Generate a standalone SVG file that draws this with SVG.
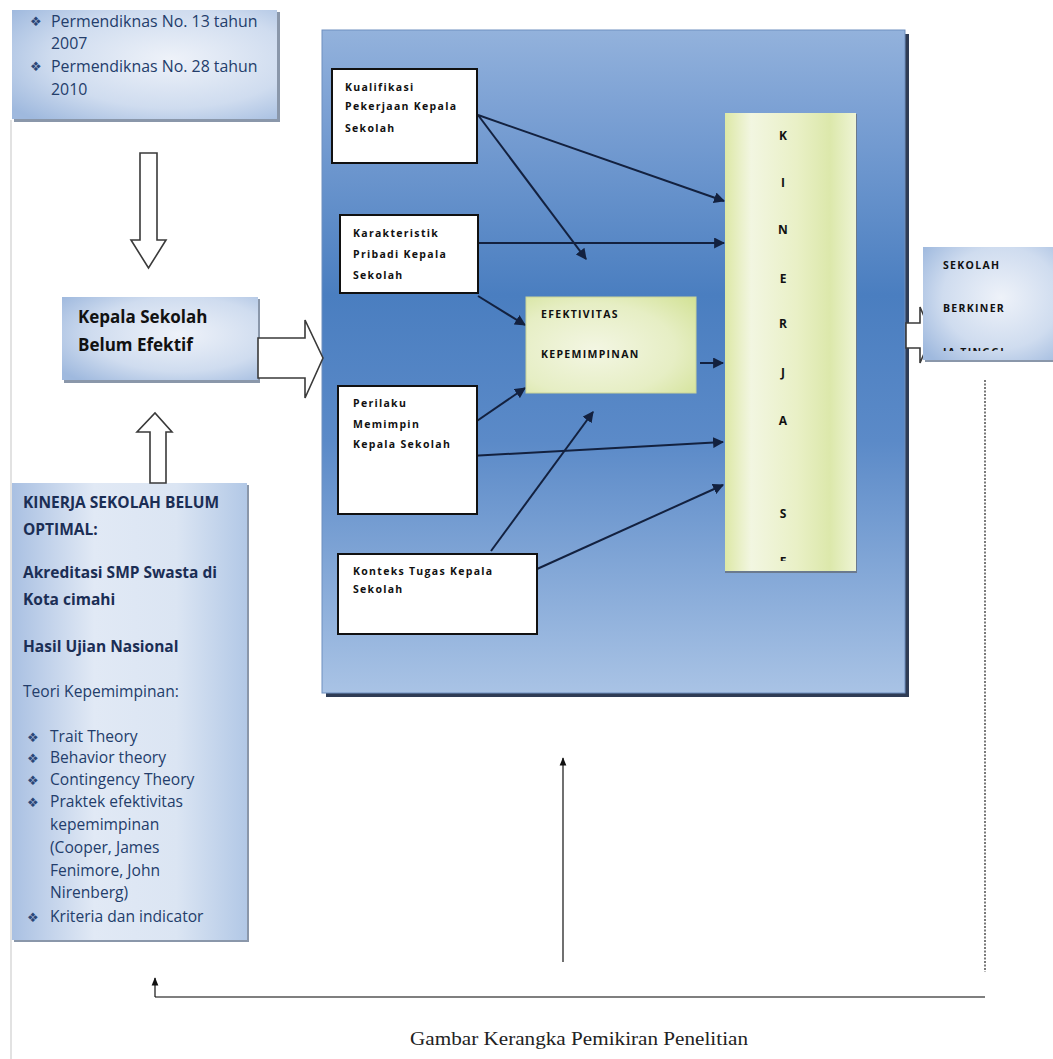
<svg xmlns="http://www.w3.org/2000/svg" width="1053" height="1059" viewBox="0 0 1053 1059">
<style>
.lb{font-family:"Open Sans","Liberation Sans",sans-serif;}
.side{fill:#233d6b;font-size:15.6px;}
.tp{fill:#233d6b;font-size:15.9px;}
.sideb{fill:#1b2e55;font-size:15.5px;font-weight:bold;}
.inb{fill:#111;font-size:10.5px;font-weight:bold;letter-spacing:1.3px;}
.bul{font-family:"DejaVu Sans",sans-serif;fill:#2b4677;font-size:13px;}
.let{fill:#111;font-size:12px;font-weight:bold;text-anchor:middle;}
.conn{stroke:#13213f;stroke-width:2;fill:none;marker-end:url(#ah);}
.outl{fill:#fff;stroke:#3a3a3a;stroke-width:1.6;}
.wbox{fill:#fff;stroke:#111;stroke-width:2;}
</style>
<defs>
<marker id="ah" viewBox="0 0 10 10" refX="9" refY="5" markerWidth="5.5" markerHeight="5.5" orient="auto" markerUnits="strokeWidth">
<path d="M0,0 L10,5 L0,10 z" fill="#13213f"/>
</marker>
<marker id="ahs" viewBox="0 0 10 10" refX="9" refY="5" markerWidth="7" markerHeight="7" orient="auto" markerUnits="strokeWidth">
<path d="M0,1 L10,5 L0,9 z" fill="#111"/>
</marker>
<linearGradient id="gBig" x1="0" y1="0" x2="0" y2="1">
<stop offset="0" stop-color="#93b2dc"/>
<stop offset="0.12" stop-color="#7ca1d4"/>
<stop offset="0.40" stop-color="#4a7ec0"/>
<stop offset="0.62" stop-color="#5b8ac8"/>
<stop offset="1" stop-color="#a9c3e5"/>
</linearGradient>
<radialGradient id="gPale" cx="0.6" cy="0.45" r="0.75">
<stop offset="0" stop-color="#eef2f9"/>
<stop offset="0.6" stop-color="#cfdcef"/>
<stop offset="1" stop-color="#9fb9de"/>
</radialGradient>
<linearGradient id="gPaleV" x1="0" y1="0" x2="1" y2="0">
<stop offset="0" stop-color="#a9c0e2"/>
<stop offset="0.35" stop-color="#e1e9f5"/>
<stop offset="0.7" stop-color="#dbe5f3"/>
<stop offset="1" stop-color="#b2c8e6"/>
</linearGradient>
<linearGradient id="gKin" x1="0" y1="0" x2="1" y2="0">
<stop offset="0" stop-color="#dde8a6"/>
<stop offset="0.2" stop-color="#f2f6e1"/>
<stop offset="0.55" stop-color="#e9f0c6"/>
<stop offset="0.8" stop-color="#dce8ab"/>
<stop offset="1" stop-color="#eef4d4"/>
</linearGradient>
<radialGradient id="gEf" cx="0.4" cy="0.55" r="0.8">
<stop offset="0" stop-color="#f3f6e3"/>
<stop offset="0.6" stop-color="#e6eec4"/>
<stop offset="1" stop-color="#d3e296"/>
</radialGradient>
<clipPath id="cKin"><rect x="725" y="113" width="131" height="448"/></clipPath>
<clipPath id="cSek"><rect x="923" y="247" width="130" height="104"/></clipPath>
</defs>

<rect width="1053" height="1059" fill="#fff"/>
<line x1="11" y1="120" x2="11" y2="1059" stroke="#cfcfcf" stroke-width="1.2"/>

<g id="node-main">
<rect x="326" y="34" width="583" height="663" fill="#2f3c55"/>
<rect x="322" y="30" width="583" height="663" fill="url(#gBig)" stroke="#6f8fbf" stroke-width="1"/>
</g>

<g id="node-permendiknas">
<rect x="14" y="12" width="266" height="110" fill="#8a97aa"/>
<rect x="12" y="10" width="265" height="109" fill="url(#gPale)"/>
<text class="bul" x="30" y="26">❖</text>
<text class="lb tp" x="51" y="27">Permendiknas No. 13 tahun</text>
<text class="lb tp" x="51" y="49">2007</text>
<text class="bul" x="30" y="71">❖</text>
<text class="lb tp" x="51" y="72">Permendiknas No. 28 tahun</text>
<text class="lb tp" x="51" y="95">2010</text>
</g>

<g id="node-kepala">
<rect x="64" y="299" width="196" height="84" fill="#8a97aa"/>
<rect x="62" y="297" width="196" height="83" fill="url(#gPale)"/>
<text class="lb" x="78" y="323" fill="#111" font-size="17" font-weight="bold">Kepala Sekolah</text>
<text class="lb" x="78" y="351" fill="#111" font-size="17" font-weight="bold">Belum Efektif</text>
</g>

<g id="node-kinerja-sekolah">
<rect x="14" y="485" width="235" height="457" fill="#8a97aa"/>
<rect x="12" y="483" width="235" height="457" fill="url(#gPaleV)"/>
<text class="lb sideb" x="23" y="508">KINERJA SEKOLAH BELUM</text>
<text class="lb sideb" x="23" y="535">OPTIMAL:</text>
<text class="lb sideb" x="23" y="578">Akreditasi SMP Swasta di</text>
<text class="lb sideb" x="23" y="605">Kota cimahi</text>
<text class="lb sideb" x="23" y="652">Hasil Ujian Nasional</text>
<text class="lb side" x="23" y="697">Teori Kepemimpinan:</text>
<text class="bul" x="27" y="742">❖</text>
<text class="lb side" x="50" y="742">Trait Theory</text>
<text class="bul" x="27" y="763">❖</text>
<text class="lb side" x="50" y="763">Behavior theory</text>
<text class="bul" x="27" y="785">❖</text>
<text class="lb side" x="50" y="785">Contingency Theory</text>
<text class="bul" x="27" y="807">❖</text>
<text class="lb side" x="50" y="807">Praktek efektivitas</text>
<text class="lb side" x="50" y="830">kepemimpinan</text>
<text class="lb side" x="50" y="853">(Cooper, James</text>
<text class="lb side" x="50" y="876">Fenimore, John</text>
<text class="lb side" x="50" y="898">Nirenberg)</text>
<text class="bul" x="27" y="922">❖</text>
<text class="lb side" x="50" y="922">Kriteria dan indicator</text>
</g>

<g id="connectors">
<polygon class="outl" points="140,153 157,153 157,240 166,240 148.5,268 131,240 140,240"/>
<polygon class="outl" points="258,338 305,338 305,320 323,358 305,398 305,378 258,378"/>
<polygon class="outl" points="150,483 166,483 166,432 172,432 155,413 137,432 150,432"/>
<polygon class="outl" points="906,323 920,323 920,307 932,335 920,363 920,348 906,348"/>
<line class="conn" x1="478" y1="115" x2="724" y2="201"/>
<line class="conn" x1="478" y1="115" x2="586" y2="259"/>
<line class="conn" x1="478" y1="243" x2="724" y2="243"/>
<line class="conn" x1="478" y1="296" x2="525" y2="325"/>
<line class="conn" x1="700" y1="363" x2="723" y2="363"/>
<line class="conn" x1="471" y1="425" x2="525" y2="388"/>
<line class="conn" x1="470" y1="456" x2="723" y2="442"/>
<line class="conn" x1="491" y1="551" x2="593" y2="412"/>
<line class="conn" x1="537" y1="569" x2="723" y2="485"/>
<line x1="563" y1="962" x2="563" y2="758" stroke="#111" stroke-width="1.2" marker-end="url(#ahs)"/>
<line x1="985" y1="380" x2="985" y2="972" stroke="#333" stroke-width="1.3" stroke-dasharray="2,1.5"/>
<line x1="985" y1="997" x2="155" y2="997" stroke="#555" stroke-width="1.6"/>
<line x1="155" y1="997" x2="155" y2="978" stroke="#111" stroke-width="1.2" marker-end="url(#ahs)"/>
</g>

<g id="node-kualifikasi">
<rect class="wbox" x="332" y="69" width="145" height="94"/>
<text class="lb inb" x="345" y="91">Kualifikasi</text>
<text class="lb inb" x="345" y="110">Pekerjaan Kepala</text>
<text class="lb inb" x="345" y="132">Sekolah</text>
</g>

<g id="node-karakteristik">
<rect class="wbox" x="340" y="215" width="138" height="78"/>
<text class="lb inb" x="353" y="237">Karakteristik</text>
<text class="lb inb" x="353" y="258">Pribadi Kepala</text>
<text class="lb inb" x="353" y="279">Sekolah</text>
</g>

<g id="node-perilaku">
<rect class="wbox" x="338" y="386" width="139" height="128"/>
<text class="lb inb" x="353" y="407">Perilaku</text>
<text class="lb inb" x="353" y="428">Memimpin</text>
<text class="lb inb" x="353" y="448">Kepala Sekolah</text>
</g>

<g id="node-konteks">
<rect class="wbox" x="338" y="554" width="199" height="80"/>
<text class="lb inb" x="353" y="575">Konteks Tugas Kepala</text>
<text class="lb inb" x="353" y="593">Sekolah</text>
</g>

<g id="node-efektivitas">
<rect x="526" y="297" width="170" height="96" fill="url(#gEf)" stroke="#c9d49a" stroke-width="1"/>
<text class="lb inb" x="541" y="318">EFEKTIVITAS</text>
<text class="lb inb" x="541" y="358">KEPEMIMPINAN</text>
</g>

<g id="node-kinerja">
<rect x="725" y="114" width="132" height="459" fill="#6b7a8e"/>
<rect x="725" y="113" width="131" height="458" fill="url(#gKin)"/>
<g clip-path="url(#cKin)" class="lb">
<text class="let" x="783" y="140">K</text>
<text class="let" x="783" y="187">I</text>
<text class="let" x="783" y="234">N</text>
<text class="let" x="783" y="283">E</text>
<text class="let" x="783" y="328">R</text>
<text class="let" x="783" y="377">J</text>
<text class="let" x="783" y="425">A</text>
<text class="let" x="783" y="518">S</text>
<text class="let" x="783" y="566">E</text>
</g>
</g>

<g id="node-sekolah">
<rect x="925" y="249" width="128" height="113" fill="#8a97aa"/>
<rect x="923" y="247" width="130" height="113" fill="url(#gPale)"/>
<g clip-path="url(#cSek)">
<text class="lb inb" x="943" y="269" fill="#222" font-size="11.3px">SEKOLAH</text>
<text class="lb inb" x="943" y="312" fill="#222" font-size="11.3px">BERKINER</text>
<text class="lb inb" x="943" y="356" fill="#222" font-size="11.3px">JA TINGGI</text>
</g>
</g>

<g id="caption">
<text x="410" y="1045" font-family="Liberation Serif, serif" font-size="18" fill="#222" textLength="338" lengthAdjust="spacingAndGlyphs">Gambar  Kerangka Pemikiran Penelitian</text>
</g>
</svg>
